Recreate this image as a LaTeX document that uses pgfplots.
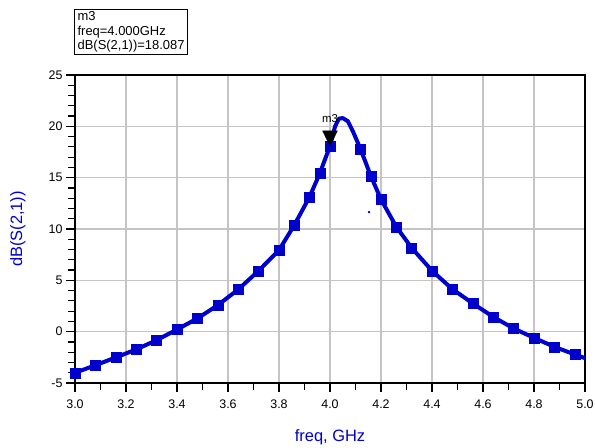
\documentclass[border=0pt]{standalone}
\usepackage{pgfplots}
\pgfplotsset{compat=1.18}
\usepackage{fontspec}
\setmainfont{Liberation Sans}
\definecolor{adsblue}{RGB}{0,0,204}
\definecolor{gridgray}{RGB}{196,196,196}
\begin{document}
\begin{tikzpicture}[x=1bp,y=1bp]
\useasboundingbox (0,0) rectangle (595,448);
\begin{axis}[
  at={(75bp,65bp)}, anchor=south west,
  width=510bp, height=308bp, scale only axis,
  xmin=3, xmax=5, ymin=-5, ymax=25,
  xtick={3.0,3.2,3.4,3.6,3.8,4.0,4.2,4.4,4.6,4.8,5.0},
  minor x tick num=1,
  ytick={-5,0,5,10,15,20,25}, minor y tick num=4,
  xticklabel style={yshift=-4bp, /pgf/number format/.cd, fixed, fixed zerofill, precision=1},
  /pgf/number format/assume math mode=true,
  grid=major, major grid style={gridgray, line width=1.2bp},
  tick align=outside, tick pos=left,
  major tick length=9bp, minor tick length=7bp,
  every tick/.style={black, line width=1.2bp},
  axis line style={black, line width=1.5bp},
  ticklabel style={font=\fontsize{12.5}{14}\selectfont},
  xlabel={freq, GHz}, ylabel={dB(S(2,1))},
  label style={font=\fontsize{16.5}{18}\selectfont, text=adsblue},
  xlabel style={at={(axis description cs:0.5,-0.175)}, anchor=center},
  ylabel style={at={(axis description cs:-0.112,0.5)}, anchor=center},
  clip=false,
]
% continuous trace
\addplot[adsblue, line width=4bp, line join=round] coordinates {
(3.00,-4.01) (3.08,-3.27) (3.16,-2.51) (3.24,-1.73) (3.32,-0.83)
(3.40,0.21) (3.48,1.29) (3.56,2.58) (3.64,4.11) (3.72,5.93)
(3.80,7.94) (3.86,10.38) (3.92,13.14) (3.96,15.42) (4.00,18.087)
(4.02,20.0) (4.035,20.75) (4.05,20.8) (4.07,20.5) (4.09,19.5)
(4.12,17.76) (4.16,15.17) (4.20,12.88) (4.26,10.21) (4.32,8.17)
(4.40,5.93) (4.48,4.14) (4.56,2.75) (4.64,1.44) (4.72,0.31)
(4.80,-0.60) (4.88,-1.48) (4.96,-2.22) (5.00,-2.58)
};
% data markers
\addplot[only marks, mark=square*, mark size=5bp, color=adsblue,
  mark options={rounded corners=2bp}] coordinates {
(3.00,-4.01) (3.08,-3.27) (3.16,-2.51) (3.24,-1.73) (3.32,-0.83)
(3.40,0.21) (3.48,1.29) (3.56,2.58) (3.64,4.11) (3.72,5.93)
(3.80,7.94) (3.86,10.38) (3.92,13.14) (3.96,15.42) (4.00,18.087)
(4.12,17.76) (4.16,15.17) (4.20,12.88) (4.26,10.21) (4.32,8.17)
(4.40,5.93) (4.48,4.14) (4.56,2.75) (4.64,1.44) (4.72,0.31)
(4.80,-0.60) (4.88,-1.48) (4.96,-2.22)
};
% stray dot
\addplot[only marks, mark=*, mark size=1bp, color=adsblue] coordinates {(4.153,11.65)};
% m3 marker
\addplot[only marks, mark=triangle*, mark size=8.5bp, color=black,
  mark options={yshift=10bp, yscale=1.2, rotate=180}] coordinates {(4.0,18.087)};
\node[font=\fontsize{11.5}{12}\selectfont, inner sep=0pt] at (axis cs:4.0,20.8) {m3};
\end{axis}
\node[draw=black, line width=1.2bp, anchor=north west, align=left,
  font=\fontsize{13}{14.5}\selectfont, inner xsep=3bp, inner ysep=2bp]
  at (74,439) {m3\\freq=4.000GHz\\dB(S(2,1))=18.087};
\end{tikzpicture}
\end{document}
